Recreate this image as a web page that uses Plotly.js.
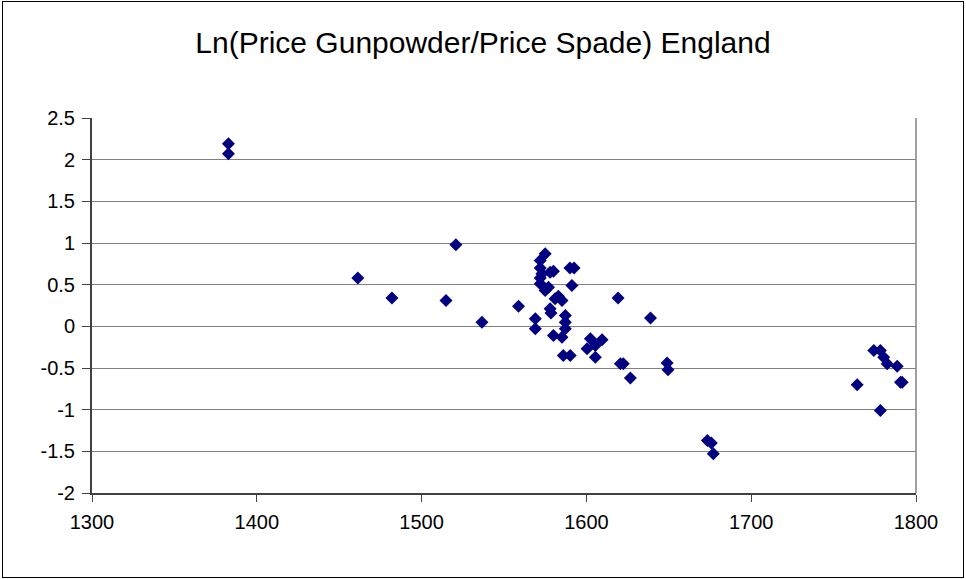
<!DOCTYPE html>
<html>
<head>
<meta charset="utf-8">
<script src="https://cdn.plot.ly/plotly-3.0.1.min.js"></script>
<style>
  html, body { margin: 0; padding: 0; background: #fff; }
  #chart { position: absolute; left: 0; top: 0; width: 966px; height: 579px; }
  #frame { position: absolute; left: 2px; top: 1px; width: 960px; height: 575px; border: 1px solid #000; pointer-events: none; }
</style>
</head>
<body>
<div id="chart"></div>
<div id="frame"></div>
<script>
const years = [
  1382.8, 1382.8, 1461.3, 1482, 1514.8, 1520.8, 1536.6, 1558.8, 1569, 1569,
  1572, 1575, 1572, 1573, 1578, 1580, 1572, 1572, 1575, 1577,
  1583, 1581, 1585.2, 1578, 1578.5, 1587.2, 1587.2, 1587.2, 1580, 1585.2,
  1586, 1590.2, 1590, 1592.5, 1591.2, 1600.4, 1602.4, 1605.4, 1605.4, 1609.5,
  1619.2, 1620.6, 1622.4, 1626.7, 1638.9, 1649, 1649.5, 1673.4, 1675.8, 1677,
  1764.3, 1774.4, 1778.4, 1780.4, 1782.5, 1788.6, 1790.6, 1791.6, 1778.4
];
const lnRatio = [
  2.19, 2.07, 0.58, 0.34, 0.31, 0.98, 0.05, 0.24, 0.09, -0.03,
  0.79, 0.87, 0.70, 0.63, 0.65, 0.66, 0.58, 0.51, 0.43, 0.47,
  0.36, 0.33, 0.31, 0.21, 0.16, 0.13, 0.05, -0.03, -0.11, -0.13,
  -0.35, -0.35, 0.70, 0.70, 0.49, -0.27, -0.15, -0.23, -0.37, -0.16,
  0.34, -0.45, -0.45, -0.62, 0.10, -0.44, -0.52, -1.37, -1.40, -1.53,
  -0.70, -0.29, -0.29, -0.37, -0.45, -0.48, -0.67, -0.67, -1.01
];
const xTickVals = [1300, 1400, 1500, 1600, 1700, 1800];
const xTickText = ['1300', '1400', '1500', '1600', '1700', '1800'];
const yTickVals = [2.5, 2, 1.5, 1, 0.5, 0, -0.5, -1, -1.5, -2];
const yTickText = ['2.5', '2', '1.5', '1', '0.5', '0', '-0.5', '-1', '-1.5', '-2'];
const chartTitle = 'Ln(Price Gunpowder/Price Spade) England';

const trace = {
  x: years, y: lnRatio, type: 'scatter', mode: 'markers',
  marker: { symbol: 'diamond', size: 10, color: '#000080', line: { width: 0 } },
  hoverinfo: 'x+y'
};

const layout = {
  width: 966, height: 579,
  margin: { l: 92, r: 50, t: 118, b: 86, pad: 0 },
  paper_bgcolor: '#fff', plot_bgcolor: '#fff',
  showlegend: false,
  font: { family: 'Liberation Sans, Arial, sans-serif', color: '#000' },
  title: { text: chartTitle, font: { size: 30, color: '#000' }, x: 0.5, xanchor: 'center', y: 0.927, yanchor: 'middle' },
  xaxis: {
    range: [1300, 1800], tickvals: xTickVals, ticktext: xTickText,
    showgrid: false, zeroline: false, showline: true, linecolor: '#404040', linewidth: 2,
    ticks: 'outside', ticklen: 7, tickcolor: '#404040', tickwidth: 1,
    ticklabelstandoff: 3,
    tickfont: { size: 20, color: '#000' }
  },
  yaxis: {
    range: [-2, 2.5], tickvals: yTickVals, ticktext: yTickText,
    showgrid: true, gridcolor: '#808080', gridwidth: 1,
    zeroline: false, showline: true, linecolor: '#404040', linewidth: 2,
    ticks: 'outside', ticklen: 8, tickcolor: '#404040', tickwidth: 1,
    ticklabelstandoff: 3,
    tickfont: { size: 20, color: '#000' }
  },
  shapes: [
    { type: 'line', xref: 'paper', yref: 'paper', x0: 1, x1: 1, y0: 0, y1: 1, line: { color: '#808080', width: 1.5 } }
  ]
};

Plotly.newPlot('chart', [trace], layout, { displayModeBar: false, staticPlot: true });
</script>
</body>
</html>
